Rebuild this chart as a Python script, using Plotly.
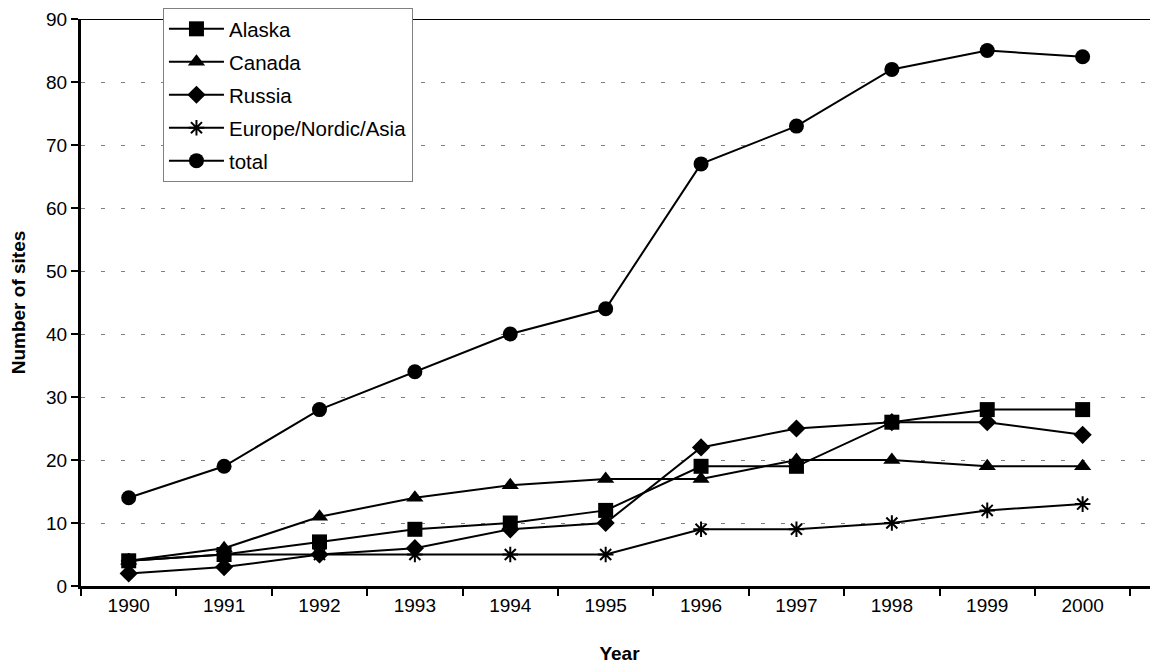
import plotly.graph_objects as go

years = ['1990', '1991', '1992', '1993', '1994', '1995', '1996', '1997', '1998', '1999', '2000']
alaska = [4, 5, 7, 9, 10, 12, 19, 19, 26, 28, 28]
canada = [4, 6, 11, 14, 16, 17, 17, 20, 20, 19, 19]
russia = [2, 3, 5, 6, 9, 10, 22, 25, 26, 26, 24]
europe = [4, 5, 5, 5, 5, 5, 9, 9, 10, 12, 13]
total = [14, 19, 28, 34, 40, 44, 67, 73, 82, 85, 84]

series = [
    ('Alaska', alaska, 'square', 15),
    ('Canada', canada, 'triangle-up', 15),
    ('Russia', russia, 'diamond', 14),
    ('Europe/Nordic/Asia', europe, 'asterisk-open', 13),
    ('total', total, 'circle', 15),
]

fig = go.Figure()
for name, vals, sym, size in series:
    fig.add_trace(go.Scatter(
        x=years, y=vals, name=name, mode='lines+markers', legendgroup=name,
        line=dict(color='black', width=2),
        marker=dict(symbol=sym, size=size, color='black',
                    line=dict(color='black', width=2 if sym == 'asterisk-open' else 0)),
    ))

# top frame line at 90
fig.add_shape(type='line', xref='paper', yref='y', x0=0, x1=1, y0=90, y1=90,
              line=dict(color='black', width=2))

# page body has an 8px margin, so the figure is sized to fill the rest
top = 11
fig.update_layout(
    width=1150, height=658,
    paper_bgcolor='white', plot_bgcolor='white',
    margin=dict(l=73, r=0, t=top, b=80, autoexpand=False),
    font=dict(family='Liberation Sans, Arial', size=19, color='black'),
    showlegend=True,
    legend=dict(x=0.0761, y=1 + top / (658 - top - 80), xanchor='left', yanchor='top',
                bgcolor='white', bordercolor='#808080', borderwidth=1,
                traceorder='grouped', tracegroupgap=3.3,
                font=dict(size=20.5), itemwidth=55),
)
fig.update_xaxes(
    type='category', range=[-0.5, 10.79], tickson='boundaries', automargin=False,
    ticks='outside', ticklen=7, tickwidth=2, tickcolor='black',
    showline=True, linecolor='black', linewidth=3, showgrid=False,
    title=dict(text='<b>Year</b>', font=dict(size=19), standoff=32),
)
fig.update_yaxes(
    range=[0, 90], dtick=10, ticks='outside', ticklen=7, tickwidth=2, tickcolor='black',
    showline=True, linecolor='black', linewidth=3, automargin=False,
    ticklabeloverflow='allow',
    showgrid=True, gridcolor='#808080', griddash='4px,16px', gridwidth=1,
    zeroline=False,
    title=dict(text='<b>Number of sites</b>', font=dict(size=19), standoff=28),
)

fig.write_html("out.html")
